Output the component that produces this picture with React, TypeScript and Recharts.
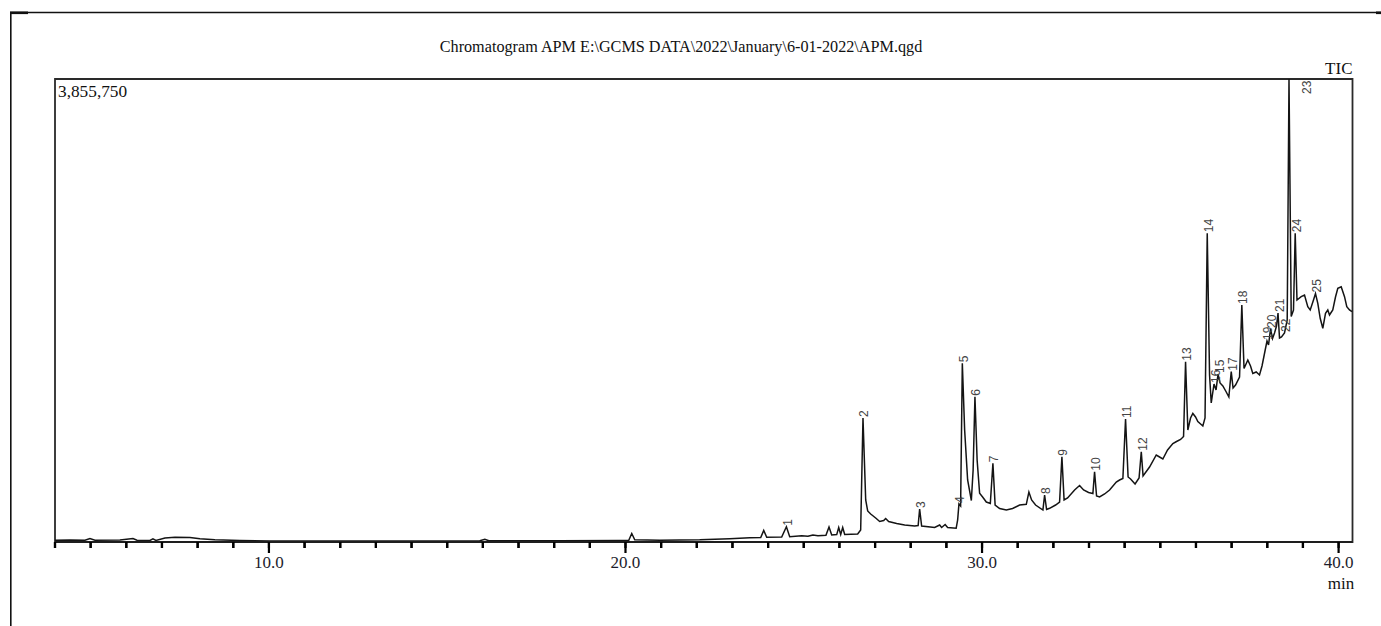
import React from 'react';
import { ComposedChart, Line, Scatter, XAxis, YAxis, ReferenceArea } from 'recharts';

// Retention time (min) of each sampled point of the TIC trace
const retentionTimes = [
  4.0, 4.421, 4.841, 4.981, 5.121, 5.822, 6.187, 6.299, 6.663, 6.747, 6.832, 7.084, 7.364, 7.785, 8.065, 8.486, 9.186,
  10.028, 12.27, 14.233, 15.915, 16.055, 16.167, 18.158, 19.84, 20.092, 20.176, 20.26, 20.961, 22.083, 22.924, 23.484,
  23.793, 23.877, 23.961, 24.381, 24.513, 24.606, 24.942, 25.117, 25.257, 25.398, 25.622, 25.708, 25.784, 25.924, 25.98,
  26.036, 26.092, 26.148, 26.512, 26.596, 26.661, 26.737, 26.793, 26.877, 27.017, 27.129, 27.241, 27.297, 27.381, 27.606,
  27.83, 28.11, 28.208, 28.25, 28.306, 28.671, 28.811, 28.867, 28.965, 29.035, 29.274, 29.316, 29.352, 29.399, 29.447,
  29.512, 29.596, 29.7, 29.75, 29.801, 29.862, 29.932, 30.016, 30.12, 30.232, 30.305, 30.367, 30.493, 30.681, 30.857,
  31.054, 31.241, 31.314, 31.39, 31.502, 31.707, 31.755, 31.811, 31.895, 32.063, 32.175, 32.24, 32.301, 32.399, 32.596,
  32.736, 32.848, 32.988, 33.109, 33.156, 33.212, 33.297, 33.437, 33.577, 33.765, 33.857, 33.95, 34.025, 34.096, 34.166,
  34.292, 34.404, 34.466, 34.516, 34.698, 34.886, 34.979, 35.071, 35.203, 35.352, 35.455, 35.568, 35.652, 35.708, 35.772,
  35.848, 35.912, 35.988, 36.052, 36.193, 36.254, 36.316, 36.381, 36.428, 36.506, 36.563, 36.619, 36.675, 36.754, 36.849,
  36.922, 36.989, 37.04, 37.11, 37.222, 37.286, 37.348, 37.454, 37.53, 37.594, 37.689, 37.782, 37.852, 37.922, 37.992,
  38.035, 38.091, 38.147, 38.203, 38.259, 38.301, 38.343, 38.399, 38.483, 38.559, 38.609, 38.671, 38.735, 38.783, 38.833,
  38.951, 39.044, 39.136, 39.204, 39.296, 39.352, 39.417, 39.484, 39.557, 39.633, 39.697, 39.745, 39.837, 39.913, 39.978,
  40.073, 40.166, 40.23, 40.306, 40.376,
];

// Total ion current (counts) at each retention time
const ticIntensity = [
  15000, 16700, 14200, 29100, 15000, 16700, 29100, 15000, 13300, 26700, 12500, 33300, 39100, 36600, 26700, 18300, 12500,
  8300, 8300, 8300, 10000, 23300, 10000, 10000, 12500, 14200, 70800, 18300, 15000, 18300, 26700, 35000,
  37500, 95800, 39100, 41600, 127400, 43300, 51600, 47500, 58300, 51600, 56600, 124900, 58300, 61600, 120800,
  62500, 120800, 62500, 66600, 99900, 1032700, 349800, 258200, 233200, 199900, 170700, 179100, 195700, 170700, 154100,
  141600, 133200, 137400, 274800, 133200, 120800, 141600, 120800, 145700, 120800, 114100, 183200, 316500, 299800, 1488200,
  932700, 516300, 345600, 599600, 1210100, 682900, 405600, 374800, 333100, 320600, 655400, 308100, 279000, 266500, 279000,
  308100, 314000, 416400, 349800, 308100, 266500, 391400, 270700, 280700, 308100, 333100, 710400, 349800, 366400, 433100,
  470500, 433100, 412200, 403900, 585500, 383100, 374800, 399700, 433100, 499700, 516300, 528800, 1024300, 541300, 524700,
  483000, 533000, 752000, 549600, 624600, 724500, 707900, 691200, 766200, 820300, 837000, 853600, 878600, 1501500, 932700,
  1032700, 1070100, 1041000, 1003500, 966000, 1032700, 2570900, 1390800, 1157600, 1315800, 1265900, 1399100, 1324200, 1299200, 1249200,
  1207600, 1418300, 1282500, 1307500, 1374100, 1973700, 1444900, 1515700, 1465700, 1403300, 1415800, 1390800, 1465700, 1569800, 1673900,
  1640600, 1773900, 1694700, 1740600, 1798800, 1907100, 1698900, 1707200, 1740600, 1848800, 3855750, 1878000, 1932100, 2570900, 2015400,
  2042900, 2057000, 1959600, 1932100, 2015400, 2069500, 1987900, 1863000, 1779700, 1904600, 1932100, 1890500, 1932100, 2040400, 2112800,
  2126100, 2042900, 1959600, 1932100, 1917900,
];

// Labelled peaks
const peakNumbers = [1, 2, 3, 4, 5, 6, 7, 8, 9, 10, 11, 12, 13, 14, 15, 16, 17, 18, 19, 20, 21, 22, 23, 24, 25];
const peakTimes = [
  24.513, 26.661, 28.25, 29.352, 29.447, 29.801, 30.305, 31.755, 32.24, 33.156, 34.025, 34.466, 35.708, 36.316, 36.619,
  36.506, 36.989, 37.286, 37.992, 38.091, 38.301, 38.483, 38.609, 38.783, 39.352,
];
const peakIntensities = [
  127400, 1032700, 274800, 316500, 1488200, 1210100, 655400, 391400, 710400, 585500, 1024300, 752000, 1501500, 2570900, 1399100,
  1315800, 1418300, 1973700, 1673900, 1773900, 1907100, 1740600, 3855750, 2570900, 2069500,
];

const xTicks = [4, 5, 6, 7, 8, 9, 10, 11, 12, 13, 14, 15, 16, 17, 18, 19, 20, 21, 22, 23, 24, 25, 26, 27, 28, 29, 30, 31, 32, 33, 34, 35, 36, 37, 38, 39, 40];
const xDomain: [number, number] = [4.0, 40.39];
const yMax = 3855750;
const yMaxLabel = '3,855,750';
const titleText = 'Chromatogram APM E:\\GCMS DATA\\2022\\January\\6-01-2022\\APM.qgd';
const traceName = 'TIC';
const xUnit = 'min';

const traceData = retentionTimes.map((t, k) => ({ t, i: ticIntensity[k] }));
const peakData = peakNumbers.map((n, k) => ({ n, t: peakTimes[k], i: peakIntensities[k] }));

const W = 1381;
const H = 626;
const MARGIN = { top: 79, left: 55, right: 28.5, bottom: 54 };
const X_AXIS_H = 30;
const PLOT_W = W - MARGIN.left - MARGIN.right;
const PLOT_BOTTOM = H - MARGIN.bottom - X_AXIS_H;
// linear time scale matching the chart's x axis, used for the tick comb
const xScale = (v: number) => MARGIN.left + ((v - xDomain[0]) / (xDomain[1] - xDomain[0])) * PLOT_W;

const SERIF = '"Liberation Serif", "Times New Roman", serif';
const SANS = '"Liberation Sans", Arial, sans-serif';

const XTick = (props: any) => {
  const { x, y, payload } = props;
  const v = Number(payload.value);
  if (v % 10 !== 0) return <g />;
  return (
    <text x={x} y={Number(y) + 20} textAnchor="middle" fontFamily={SERIF} fontSize={17} fill="#1c1c2c">
      {v.toFixed(1)}
    </text>
  );
};

const PeakLabel = (props: any) => {
  const { cx, cy, payload } = props;
  if (cx == null || cy == null) return <g />;
  const atTop = payload.i >= yMax * 0.97;
  const x = atTop ? cx + 18 : cx + 1.5;
  const y = atTop ? cy + 15 : cy - 1;
  return (
    <text
      transform={`translate(${x},${y}) rotate(-90)`}
      x={0}
      y={0}
      dominantBaseline="central"
      fontFamily={SANS}
      fontSize={12}
      fill="#444"
    >
      {payload.n}
    </text>
  );
};

export default function App() {
  return (
    <div style={{ position: 'absolute', left: 0, top: 0, width: W, height: H, background: '#fff', overflow: 'hidden' }}>
      <ComposedChart width={W} height={H} data={traceData} margin={MARGIN}>
        <XAxis
          type="number"
          dataKey="t"
          domain={xDomain}
          ticks={xTicks}
          interval={0}
          height={X_AXIS_H}
          tickSize={6}
          tickMargin={0}
          stroke="#000"
          tickLine={{ stroke: '#000', strokeWidth: 2.2 }}
          axisLine={{ stroke: '#1e1e1e', strokeWidth: 1.8 }}
          tick={<XTick />}
        />
        <YAxis type="number" dataKey="i" domain={[0, yMax]} hide />
        <ReferenceArea
          x1={xDomain[0]}
          x2={xDomain[1]}
          y1={0}
          y2={yMax}
          fill="none"
          stroke="#2a2a2a"
          strokeWidth={1.8}
          ifOverflow="visible"
        />
        <Line
          type="linear"
          dataKey="i"
          stroke="#141414"
          strokeWidth={1.5}
          dot={false}
          activeDot={false}
          isAnimationActive={false}
        />
        <Scatter data={peakData} dataKey="i" shape={<PeakLabel />} isAnimationActive={false} />
      </ComposedChart>
      <svg width={W} height={H} style={{ position: 'absolute', left: 0, top: 0, pointerEvents: 'none' }}>
        {xTicks.map((v) => (
          <rect
            key={`tk-${v}`}
            x={xScale(v) - 1.1}
            y={PLOT_BOTTOM}
            width={2.2}
            height={v % 10 === 0 ? 11 : 6}
            fill="#000"
          />
        ))}
        <line x1={10} y1={12.5} x2={W} y2={12.5} stroke="#111" strokeWidth={1.6} />
        <line x1={10.8} y1={12} x2={10.8} y2={H} stroke="#111" strokeWidth={1.6} />
        <rect x={10} y={11.5} width={18} height={2.6} fill="#111" />
        <rect x={1376} y={11.5} width={5} height={2.6} fill="#111" />
        <text x={681} y={51.5} textAnchor="middle" fontFamily={SERIF} fontSize={16.2} fill="#111">
          {titleText}
        </text>
        <text x={58} y={96.5} fontFamily={SERIF} fontSize={17.3} fill="#111">
          {yMaxLabel}
        </text>
        <text x={1352.5} y={74} textAnchor="end" fontFamily={SERIF} fontSize={17} fill="#111">
          {traceName}
        </text>
        <text x={1341} y={589} textAnchor="middle" fontFamily={SERIF} fontSize={17} fill="#111">
          {xUnit}
        </text>
      </svg>
    </div>
  );
}
